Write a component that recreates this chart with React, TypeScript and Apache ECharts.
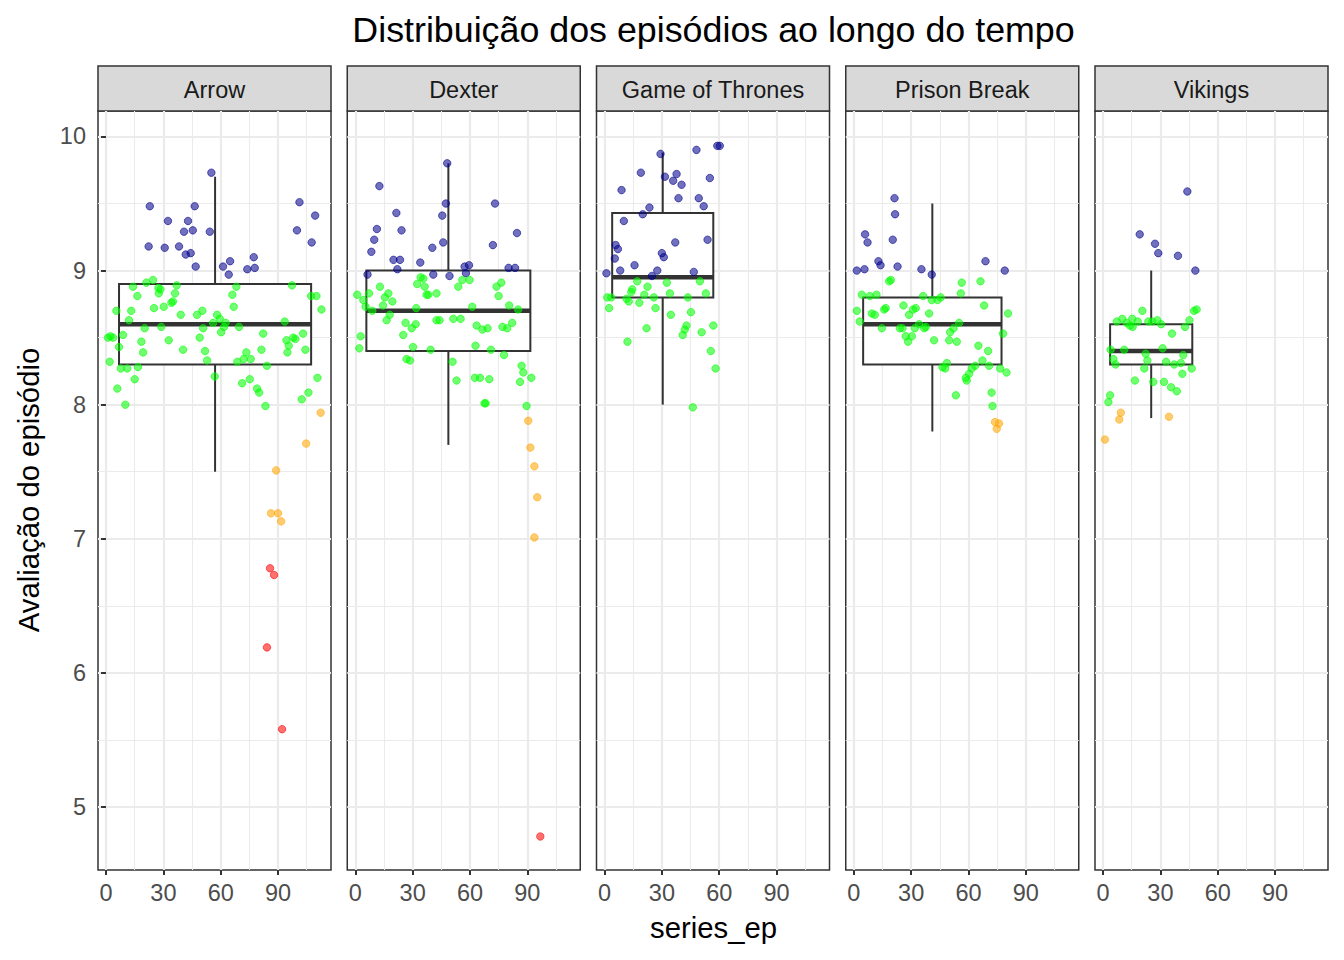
import { useEffect, useRef } from "react";
import * as echarts from "echarts";

const shows = ["Arrow", "Dexter", "Game of Thrones", "Prison Break", "Vikings"];

// cores por faixa de avaliação: >= 9, 8 a 9, 7 a 8, < 7
const faixaCores = ["#00008B", "#00FF00", "#FFA500", "#FF0000"];

// [series_ep, avaliação] (com jitter)
const arrowAzul = [
  [55.1, 9.73], [22.9, 9.48], [46.4, 9.48], [32.4, 9.37], [42.9, 9.37], [40.8, 9.29], [45.4, 9.3], [54.3, 9.29],
  [22.3, 9.18], [30.7, 9.17], [38.2, 9.18], [41.7, 9.12], [44.3, 9.13], [46.9, 9.03], [61.2, 9.03], [64.9, 9.07],
  [64.2, 8.97], [77.3, 9.1], [73.9, 9.01], [77.8, 9.02], [101.2, 9.51], [109.4, 9.41], [99.9, 9.3], [107.6, 9.21],
];
const arrowVerde = [
  [24.6, 8.93], [21.1, 8.91], [14.1, 8.88], [27.4, 8.87], [28.5, 8.86], [37.0, 8.89], [16.4, 8.81], [27.6, 8.83],
  [36.1, 8.83], [68.2, 8.88], [66.1, 8.82], [97.3, 8.89], [107.3, 8.81], [110.1, 8.81],
  [5.4, 8.7], [13.2, 8.7], [12.0, 8.63], [25.1, 8.72], [30.2, 8.73], [34.2, 8.76], [35.0, 8.77], [39.1, 8.67],
  [47.6, 8.67], [50.4, 8.7], [58.1, 8.67], [59.5, 8.64], [56.0, 8.61], [62.6, 8.61], [61.7, 8.58], [66.8, 8.73],
  [50.8, 8.57], [60.2, 8.54], [69.6, 8.58], [28.9, 8.58], [20.2, 8.57], [93.5, 8.62], [112.7, 8.71],
  [2.3, 8.51], [3.7, 8.5], [1.0, 8.5], [8.9, 8.52], [18.5, 8.47], [32.8, 8.48], [49.0, 8.5], [82.2, 8.53],
  [94.4, 8.48], [97.9, 8.5], [99.1, 8.49], [95.6, 8.44], [94.9, 8.39], [103.1, 8.53], [104.3, 8.41], [6.8, 8.43],
  [19.4, 8.39], [40.3, 8.41], [51.8, 8.4], [73.4, 8.39], [81.3, 8.41],
  [1.9, 8.32], [52.9, 8.33], [68.7, 8.32], [72.0, 8.34], [75.7, 8.34], [84.2, 8.29], [7.7, 8.27], [11.1, 8.27],
  [16.7, 8.28], [15.0, 8.19], [56.9, 8.21], [71.2, 8.16], [75.2, 8.19], [79.0, 8.12], [80.1, 8.09], [5.9, 8.12],
  [10.1, 8.0], [83.4, 7.99], [110.6, 8.2], [105.9, 8.09], [102.4, 8.04],
];
const arrowLaranja = [[112.3, 7.94], [89.0, 7.51], [86.3, 7.19], [90.0, 7.19], [91.6, 7.13], [104.7, 7.71]];
const arrowVermelho = [[85.8, 6.78], [87.9, 6.73], [84.2, 6.19], [92.1, 5.58]];

const dexterAzul = [
  [48.1, 9.8], [12.6, 9.63], [47.4, 9.5], [73.1, 9.5], [21.5, 9.43], [45.5, 9.41], [11.3, 9.31], [24.2, 9.3],
  [9.9, 9.23], [84.6, 9.28], [8.4, 9.14], [40.3, 9.17], [46.0, 9.21], [72.0, 9.19], [20.0, 9.08], [23.4, 9.08],
  [22.0, 9.01], [34.0, 9.06], [57.2, 9.03], [59.5, 9.04], [80.2, 9.02], [83.6, 9.02], [6.4, 8.97], [40.8, 8.97],
  [49.3, 8.96], [57.9, 8.98],
];
const dexterVerde = [
  [34.2, 8.95], [35.6, 8.94], [32.4, 8.9], [36.3, 8.88], [12.9, 8.88], [53.9, 8.88], [56.0, 8.93], [59.8, 8.93],
  [73.9, 8.88], [76.4, 8.91],
  [1.0, 8.82], [7.2, 8.83], [4.2, 8.78], [17.3, 8.83], [15.5, 8.8], [19.4, 8.77], [14.5, 8.74], [5.4, 8.73],
  [8.9, 8.7], [37.3, 8.82], [38.2, 8.82], [42.5, 8.83], [75.0, 8.81], [80.5, 8.74], [85.2, 8.71], [31.9, 8.72],
  [61.2, 8.73], [18.0, 8.67], [16.4, 8.63], [26.3, 8.61], [31.6, 8.6], [29.5, 8.57], [42.5, 8.63], [44.1, 8.63],
  [51.3, 8.64], [55.1, 8.64], [63.5, 8.59], [66.5, 8.56], [69.2, 8.57], [77.0, 8.58], [79.5, 8.57], [82.1, 8.61],
  [25.1, 8.52], [2.8, 8.51], [2.1, 8.42], [30.2, 8.43], [39.4, 8.41], [62.9, 8.44], [71.0, 8.41], [77.8, 8.37],
  [26.8, 8.34], [28.6, 8.33], [50.9, 8.32], [87.0, 8.29], [87.9, 8.24], [92.1, 8.2], [86.2, 8.17], [53.0, 8.18],
  [62.6, 8.2], [65.3, 8.2], [70.1, 8.19], [68.2, 8.01], [67.6, 8.01], [89.6, 7.99],
];
const dexterLaranja = [[90.5, 7.88], [91.6, 7.68], [93.7, 7.54], [95.2, 7.31], [93.7, 7.01]];
const dexterVermelho = [[96.8, 4.78]];

const gotAzul = [
  [29.3, 9.87], [48.1, 9.9], [59.0, 9.93], [60.3, 9.93], [19.0, 9.73], [31.6, 9.7], [37.7, 9.72], [35.9, 9.67],
  [40.3, 9.64], [55.1, 9.69], [8.9, 9.6], [38.7, 9.54], [49.3, 9.54], [51.9, 9.48], [23.5, 9.47], [20.0, 9.42],
  [10.1, 9.37], [37.0, 9.21], [53.9, 9.23], [5.8, 9.19], [7.0, 9.16], [30.0, 9.13], [31.0, 9.1], [5.4, 9.09],
  [15.7, 9.04], [1.0, 8.98], [8.2, 9.0], [27.6, 9.0], [24.8, 8.96], [46.7, 8.99],
];
const gotVerde = [
  [17.1, 8.92], [22.5, 8.88], [32.6, 8.91], [49.9, 8.92], [14.5, 8.86], [14.0, 8.84], [20.8, 8.82], [34.2, 8.83],
  [53.0, 8.83], [1.4, 8.8], [3.5, 8.8], [11.5, 8.79], [12.7, 8.77], [18.2, 8.76], [25.8, 8.8], [43.6, 8.8],
  [2.4, 8.72], [26.7, 8.72], [34.7, 8.67], [45.2, 8.69], [22.0, 8.57], [42.9, 8.59], [42.0, 8.56], [40.9, 8.52],
  [50.8, 8.54], [56.9, 8.59], [12.0, 8.47], [55.6, 8.4], [58.1, 8.27], [46.2, 7.98],
];

const prisonAzul = [
  [21.3, 9.54], [21.6, 9.42], [5.9, 9.27], [7.2, 9.21], [20.4, 9.23], [12.9, 9.07], [14.0, 9.04], [1.6, 9.0],
  [5.6, 9.01], [22.9, 9.03], [35.4, 9.01], [40.8, 8.97], [68.9, 9.07], [79.0, 9.0],
];
const prisonVerde = [
  [18.5, 8.92], [19.4, 8.93], [4.2, 8.82], [8.4, 8.81], [11.9, 8.82], [56.5, 8.91], [66.3, 8.92], [56.0, 8.83],
  [36.3, 8.81], [40.8, 8.78], [43.8, 8.78], [45.5, 8.8], [68.2, 8.74], [1.6, 8.7], [16.7, 8.72], [15.9, 8.71],
  [26.0, 8.74], [32.4, 8.72], [31.0, 8.71], [28.9, 8.67], [39.4, 8.68], [80.7, 8.68], [9.4, 8.68], [11.0, 8.67],
  [3.1, 8.62], [14.7, 8.57], [24.1, 8.57], [25.5, 8.57], [34.2, 8.6], [31.9, 8.57], [37.7, 8.58], [36.8, 8.57],
  [27.2, 8.51], [30.4, 8.51], [28.4, 8.47], [42.0, 8.48], [49.9, 8.48], [53.9, 8.47], [50.4, 8.54], [52.2, 8.57],
  [55.1, 8.61], [78.1, 8.53], [65.2, 8.44], [70.3, 8.4], [67.3, 8.33], [70.8, 8.29], [76.6, 8.27], [79.9, 8.24],
  [46.4, 8.28], [48.7, 8.31], [47.8, 8.27], [63.5, 8.29], [61.7, 8.27], [60.3, 8.23], [58.6, 8.2], [59.1, 8.18],
  [72.1, 8.09], [53.4, 8.07], [72.6, 7.99],
];
const prisonLaranja = [[73.9, 7.87], [76.0, 7.86], [74.8, 7.82]];

const vikingsAzul = [[44.1, 9.59], [19.2, 9.27], [27.2, 9.2], [28.9, 9.13], [39.2, 9.11], [48.3, 9.0]];
const vikingsVerde = [
  [20.6, 8.7], [47.6, 8.7], [49.0, 8.71], [7.2, 8.62], [10.1, 8.64], [12.4, 8.61], [14.1, 8.59], [15.5, 8.58],
  [15.3, 8.64], [18.2, 8.62], [23.7, 8.62], [25.8, 8.62], [28.4, 8.63], [30.4, 8.6], [45.2, 8.63], [42.9, 8.58],
  [36.1, 8.53], [4.0, 8.41], [11.1, 8.41], [31.2, 8.42], [22.3, 8.38], [23.2, 8.33], [5.4, 8.34], [6.6, 8.3],
  [42.0, 8.37], [33.0, 8.32], [37.2, 8.3], [40.7, 8.31], [21.6, 8.27], [46.4, 8.27], [41.5, 8.23], [16.7, 8.18],
  [26.3, 8.17], [31.9, 8.17], [35.6, 8.13], [38.6, 8.1], [3.7, 8.07], [2.8, 8.02],
];
const vikingsLaranja = [[9.3, 7.94], [8.5, 7.89], [34.5, 7.91], [1.0, 7.74]];

const episodios = [
  [arrowAzul, arrowVerde, arrowLaranja, arrowVermelho],
  [dexterAzul, dexterVerde, dexterLaranja, dexterVermelho],
  [gotAzul, gotVerde, [], []],
  [prisonAzul, prisonVerde, prisonLaranja, []],
  [vikingsAzul, vikingsVerde, vikingsLaranja, []],
];

// boxplot por série
const boxDe = [6.8, 5.8, 4.0, 4.9, 3.7];
const boxAte = [107.3, 91.6, 56.9, 77.3, 46.7];
const bigodeMin = [7.5, 7.7, 8.0, 7.8, 7.9];
const quartil1 = [8.3, 8.4, 8.8, 8.3, 8.3];
const mediana = [8.6, 8.7, 8.95, 8.6, 8.4];
const quartil3 = [8.9, 9.0, 9.43, 8.8, 8.6];
const bigodeMax = [9.7, 9.8, 9.88, 9.5, 9.0];

const xTicks = [0, 30, 60, 90];
const xMinor = [15, 45, 75, 105];
const yTicks = [5, 6, 7, 8, 9, 10];
const yMinor = [5.5, 6.5, 7.5, 8.5, 9.5];

const FONT = '"Liberation Sans", Arial, sans-serif';
const painelLeft = [98, 347.25, 596.5, 845.75, 1095];
const painelW = 233;
const painelTop = 111;
const painelH = 759;

const Chart = () => {
  const chartRef = useRef(null);

  useEffect(() => {
    document.body.style.margin = "0";
    const chart = echarts.init(chartRef.current, null, { renderer: "svg" });

    const grid: any[] = [];
    const xAxis: any[] = [];
    const yAxis: any[] = [];
    const series: any[] = [];
    const graphic: any[] = [];

    shows.forEach((nome, i) => {
      grid.push({
        left: painelLeft[i],
        top: painelTop,
        width: painelW,
        height: painelH,
        show: true,
        borderColor: "#333333",
        borderWidth: 1.5,
      });
      // eixo x principal
      xAxis.push({
        type: "value",
        gridIndex: i,
        min: -4.2,
        max: 117.7,
        axisLine: { show: false },
        axisTick: { customValues: xTicks, length: 5, lineStyle: { color: "#333333", width: 2 } },
        axisLabel: { customValues: xTicks, fontSize: 23.5, color: "#4D4D4D", margin: 11, fontFamily: FONT },
        splitLine: { lineStyle: { color: "#EBEBEB", width: 2.2 } },
      });
      // grade secundária
      xAxis.push({
        type: "value",
        gridIndex: i,
        position: "bottom",
        min: -4.2,
        max: 117.7,
        axisLine: { show: false },
        axisTick: { show: false, customValues: xMinor },
        axisLabel: { show: false },
        splitLine: { lineStyle: { color: "#EBEBEB", width: 1.1 } },
      });
      yAxis.push({
        type: "value",
        gridIndex: i,
        min: 4.53,
        max: 10.19,
        axisLine: { show: false },
        axisTick: { show: i === 0, customValues: yTicks, length: 5, lineStyle: { color: "#333333", width: 2 } },
        axisLabel: { show: i === 0, customValues: yTicks, fontSize: 23.5, color: "#4D4D4D", margin: 12, fontFamily: FONT },
        splitLine: { lineStyle: { color: "#EBEBEB", width: 2.2 } },
      });
      yAxis.push({
        type: "value",
        gridIndex: i,
        min: 4.53,
        max: 10.19,
        axisLine: { show: false },
        axisTick: { show: false, customValues: yMinor },
        axisLabel: { show: false },
        splitLine: { lineStyle: { color: "#EBEBEB", width: 1.1 } },
      });

      series.push({
        type: "custom",
        name: nome + " boxplot",
        coordinateSystem: "cartesian2d",
        xAxisIndex: 2 * i,
        yAxisIndex: 2 * i,
        z: 2,
        silent: true,
        encode: { x: [0, 1], y: [2, 3, 4, 5, 6] },
        data: [[boxDe[i], boxAte[i], bigodeMin[i], quartil1[i], mediana[i], quartil3[i], bigodeMax[i]]],
        renderItem: (params: any, api: any) => {
          const de = api.value(0);
          const ate = api.value(1);
          const meio = (de + ate) / 2;
          const [x0, yQ3] = api.coord([de, api.value(5)]);
          const [x1, yQ1] = api.coord([ate, api.value(3)]);
          const [xm, yMin] = api.coord([meio, api.value(2)]);
          const yMax = api.coord([meio, api.value(6)])[1];
          const yMed = api.coord([meio, api.value(4)])[1];
          const traco = { stroke: "#333333", lineWidth: 2 };
          return {
            type: "group",
            children: [
              { type: "line", shape: { x1: xm, y1: yQ1, x2: xm, y2: yMin }, style: traco },
              { type: "line", shape: { x1: xm, y1: yQ3, x2: xm, y2: yMax }, style: traco },
              {
                type: "rect",
                shape: { x: x0, y: yQ3, width: x1 - x0, height: yQ1 - yQ3 },
                style: { fill: "#FFFFFF", stroke: "#333333", lineWidth: 2 },
              },
              { type: "line", shape: { x1: x0, y1: yMed, x2: x1, y2: yMed }, style: { stroke: "#333333", lineWidth: 4.5 } },
            ],
          };
        },
      });

      const pontos: any[] = [];
      episodios[i].forEach((faixa, f) => {
        faixa.forEach((p) => {
          pontos.push({
            value: p,
            itemStyle: {
              color: echarts.color.modifyAlpha(faixaCores[f], 0.7),
              borderColor: echarts.color.modifyAlpha(faixaCores[f], 0.7),
              borderWidth: 1,
            },
          });
        });
      });
      series.push({
        type: "scatter",
        name: nome,
        xAxisIndex: 2 * i,
        yAxisIndex: 2 * i,
        z: 3,
        symbolSize: 7.5,
        data: pontos,
      });

      // faixa com o nome da série
      graphic.push({
        type: "rect",
        shape: { x: painelLeft[i], y: 66, width: painelW, height: 45 },
        style: { fill: "#D9D9D9", stroke: "#333333", lineWidth: 1.5 },
      });
      graphic.push({
        type: "text",
        x: painelLeft[i] + painelW / 2,
        y: 89.5,
        style: {
          text: nome,
          fontSize: 23.5,
          fontFamily: FONT,
          fill: "#1A1A1A",
          textAlign: "center",
          textVerticalAlign: "middle",
        },
      });
    });

    graphic.push({
      type: "text",
      x: 713.5,
      y: 30,
      style: {
        text: "Distribuição dos episódios ao longo do tempo",
        fontSize: 35.8,
        fontFamily: FONT,
        fill: "#000000",
        textAlign: "center",
        textVerticalAlign: "middle",
      },
    });
    graphic.push({
      type: "text",
      x: 713.5,
      y: 927,
      style: {
        text: "series_ep",
        fontSize: 29.3,
        fontFamily: FONT,
        fill: "#000000",
        textAlign: "center",
        textVerticalAlign: "middle",
      },
    });
    graphic.push({
      type: "text",
      x: 28,
      y: 490,
      rotation: Math.PI / 2,
      style: {
        text: "Avaliação do episódio",
        fontSize: 29.3,
        fontFamily: FONT,
        fill: "#000000",
        textAlign: "center",
        textVerticalAlign: "middle",
      },
    });

    const option: any = {
      animation: false,
      backgroundColor: "#FFFFFF",
      grid,
      xAxis,
      yAxis,
      series,
      graphic,
    };

    chart.setOption(option);

    return () => {
      chart.dispose();
    };
  }, []);

  return <div ref={chartRef} style={{ width: "1344px", height: "960px" }} />;
};

export default function App() {
  return <Chart />;
}
